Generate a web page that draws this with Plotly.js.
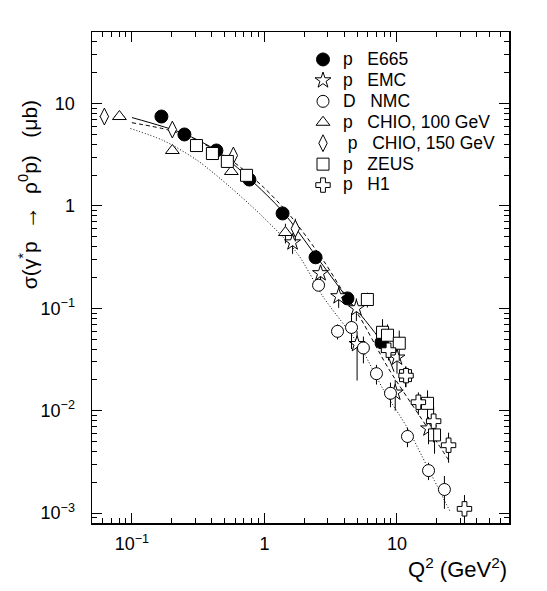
<!DOCTYPE html>
<html>
<head>
<meta charset="utf-8">
<script src="https://cdn.plot.ly/plotly-3.0.1.min.js"></script>
<style>html,body{margin:0;padding:0;background:#fff;}</style>
</head>
<body>
<div id="chart" style="width:547px;height:591px;"></div>
<script>
// ---- data ----
const e665Q2  = [0.167, 0.249, 0.434, 0.77, 1.37, 2.43, 4.23, 7.64];
const e665Sig = [7.47, 4.99, 3.48, 1.81, 0.845, 0.315, 0.125, 0.0466];
const e665Err = [0.3, 0.2, 0.15, 0.08, 0.05, 0.025, 0.012, 0.01];

const emcQ2   = [1.63, 2.65, 3.63, 4.94, 5.0, 9.7, 10.0, 17.3];
const emcSig  = [0.44, 0.22, 0.131, 0.1, 0.0447, 0.015, 0.033, 0.0067];
const emcErrP = [0.1, 0.04, 0.03, 0.025, 0.015, 0.005, 0.012, 0.002];
const emcErrM = [0.1, 0.04, 0.03, 0.025, 0.025, 0.005, 0.01, 0.002];

const nmcQ2   = [2.56, 3.56, 4.54, 5.58, 7.0, 8.93, 12.0, 17.3, 22.8];
const nmcSig  = [0.168, 0.0596, 0.065, 0.041, 0.023, 0.0148, 0.0056, 0.0026, 0.0017];
const nmcErr  = [0.02, 0.01, 0.025, 0.012, 0.005, 0.004, 0.0012, 0.0005, 0.0006];

const chio100Q2   = [0.0805, 0.202, 0.563, 1.44];
const chio100Sig  = [7.47, 3.48, 2.17, 0.55];
const chio100Err  = [0.3, 0.2, 0.15, 0.12];
const chio100ErrX = [0.007, 0, 0, 0];

const chio150Q2   = [0.062, 0.202, 0.583, 1.71];
const chio150Sig  = [7.47, 5.57, 3.11, 0.6];
const chio150Err  = [0.2, 0.2, 0.3, 0.15];
const chio150ErrX = [0.005, 0, 0, 0];

const zeusQ2  = [0.307, 0.405, 0.525, 0.733, 5.98, 7.78, 8.48, 10.4, 11.6, 17.0, 19.2];
const zeusSig = [3.89, 3.25, 2.72, 1.99, 0.122, 0.0583, 0.0546, 0.0456, 0.022, 0.0118, 0.0058];
const zeusErr = [0.2, 0.2, 0.2, 0.15, 0.02, 0.02, 0.015, 0.015, 0.005, 0.004, 0.002];

const h1Q2    = [8.63, 11.7, 14.5, 18.9, 24.5, 32.3];
const h1Sig   = [0.039, 0.022, 0.0121, 0.0079, 0.0046, 0.0011];
const h1ErrP  = [0.008, 0.005, 0.003, 0.003, 0.0015, 0.0004];
const h1ErrM  = [0.008, 0.005, 0.003, 0.003, 0.0015, 0.0003];

// fitted curves
const solidQ2  = [0.1, 0.245, 0.434, 0.77, 1.37, 2.43, 4.23, 7.64, 9.5];
const solidSig = [7.3, 5.1, 3.48, 1.85, 0.884, 0.329, 0.125, 0.0466, 0.024];
const dashQ2   = [0.1, 0.19, 0.31, 0.55, 0.98, 1.57, 2.8, 4.2, 5.3, 8.6, 17, 24.5];
const dashSig  = [6.5, 5.5, 4.35, 2.85, 1.53, 0.80, 0.29, 0.125, 0.08, 0.026, 0.0068, 0.0033];
const dotQ2    = [0.0975, 0.173, 0.312, 0.554, 0.983, 1.77, 2.79, 5.3, 7.9, 12, 17, 25.3];
const dotSig   = [5.7, 4.35, 2.78, 1.52, 0.773, 0.344, 0.128, 0.0417, 0.016, 0.00675, 0.00281, 0.00102];

// legend names
const S = '\u00A0\u00A0\u00A0';
const names = ['p' + S + 'E665', 'p' + S + 'EMC', 'D' + S + 'NMC',
  'p' + S + 'CHIO, 100 GeV', '\u00A0p' + S + 'CHIO, 150 GeV', 'p' + S + 'ZEUS', 'p' + S + 'H1'];

// tick labels
const xTickVals = [0.1, 1, 10];
const xTickText = ['10<sup>\u22121</sup>', '1', '10'];
const yTickVals = [0.001, 0.01, 0.1, 1, 10];
const yTickText = ['10<sup>\u22123</sup>', '10<sup>\u22122</sup>', '10<sup>\u22121</sup>', '1', '10'];

function minorVals(lo, hi) {
  const v = [];
  for (let e = lo; e <= hi; e++) for (let m = 2; m <= 9; m++) v.push(m * Math.pow(10, e));
  return v;
}

const FONT = 'Liberation Sans, Arial, Helvetica, sans-serif';
const K = '#000';

function big(t) { return '<span style="font-size:17.5px">' + t + '</span>'; }

function pts(x, y, sym, size, name, errP, errM, errX, fill) {
  const t = {
    x: x, y: y, type: 'scatter', mode: 'markers', name: big(name),
    marker: {symbol: sym, size: size, color: fill || '#fff', line: {color: K, width: 1}},
    error_y: {type: 'data', array: errP, arrayminus: errM || errP, color: K, thickness: 1, width: 0, visible: true}
  };
  if (errX) t.error_x = {type: 'data', array: errX, color: K, thickness: 1, width: 0, visible: true};
  return t;
}

const traces = [
  {x: solidQ2, y: solidSig, mode: 'lines', type: 'scatter', showlegend: false, hoverinfo: 'skip',
   line: {color: K, width: 1, shape: 'spline', smoothing: 0.8}},
  {x: dashQ2, y: dashSig, mode: 'lines', type: 'scatter', showlegend: false, hoverinfo: 'skip',
   line: {color: K, width: 1, dash: '4px,3px', shape: 'spline', smoothing: 0.8}},
  {x: dotQ2, y: dotSig, mode: 'lines', type: 'scatter', showlegend: false, hoverinfo: 'skip',
   line: {color: K, width: 1, dash: '1px,2px', shape: 'spline', smoothing: 0.8}},
  pts(e665Q2, e665Sig, 'circle', 13, names[0], e665Err, null, null, K),
  pts(emcQ2, emcSig, 'star', 12, names[1], emcErrP, emcErrM),
  pts(nmcQ2, nmcSig, 'circle', 12, names[2], nmcErr),
  pts(chio100Q2, chio100Sig, 'triangle-up', 12, names[3], chio100Err, null, chio100ErrX),
  pts(chio150Q2, chio150Sig, 'diamond-tall', 12, names[4], chio150Err, null, chio150ErrX),
  pts(zeusQ2, zeusSig, 'square', 12, names[5], zeusErr),
  pts(h1Q2, h1Sig, 'cross', 12, names[6], h1ErrP, h1ErrM)
];

const axisCommon = {
  type: 'log', showgrid: false, zeroline: false,
  showline: true, linecolor: K, linewidth: 1.5, mirror: 'ticks',
  ticks: 'inside', ticklen: 10, tickwidth: 1, tickcolor: K,
  tickmode: 'array',
  tickfont: {family: FONT, size: 18, color: K}
};

const layout = {
  width: 547, height: 591,
  margin: {l: 92, r: 38, t: 32, b: 68},
  paper_bgcolor: '#fff', plot_bgcolor: '#fff',
  font: {family: FONT, color: K},
  showlegend: true,
  legend: {x: 0.506, xanchor: 'left', y: 0.9756, yanchor: 'top', bgcolor: 'rgba(0,0,0,0)',
           font: {family: FONT, size: 13.8, color: K}, itemsizing: 'trace', tracegroupgap: 0},
  xaxis: Object.assign({}, axisCommon, {
    range: [Math.log10(0.05), Math.log10(70)],
    tickvals: xTickVals, ticktext: xTickText, ticklabelstandoff: 4,
    minor: {tickvals: minorVals(-2, 1), ticks: 'inside', ticklen: 5, tickcolor: K, tickwidth: 1, showgrid: false}
  }),
  yaxis: Object.assign({}, axisCommon, {
    range: [Math.log10(0.0008), Math.log10(50)],
    tickvals: yTickVals, ticktext: yTickText, ticklabelstandoff: 12,
    minor: {tickvals: minorVals(-4, 1), ticks: 'inside', ticklen: 5, tickcolor: K, tickwidth: 1, showgrid: false}
  }),
  annotations: [
    {text: 'σ(γ<sup>*</sup>p\u00A0\u00A0<span style="font-size:24px">→</span>\u00A0\u00A0ρ<sup>0</sup>p)\u00A0\u00A0\u00A0(μb)', textangle: -90,
     xref: 'paper', yref: 'paper', x: -0.153, y: 0.668, xanchor: 'center', yanchor: 'middle',
     showarrow: false, font: {family: FONT, size: 21, color: K}},
    {text: 'Q<sup>2</sup>\u00A0(GeV<sup>2</sup>)', xref: 'paper', yref: 'paper', x: 1, y: -0.092,
     xanchor: 'right', yanchor: 'middle', showarrow: false, font: {family: FONT, size: 22, color: K}}
  ]
};

Plotly.newPlot('chart', traces, layout, {displayModeBar: false, staticPlot: true});
</script>
</body>
</html>
